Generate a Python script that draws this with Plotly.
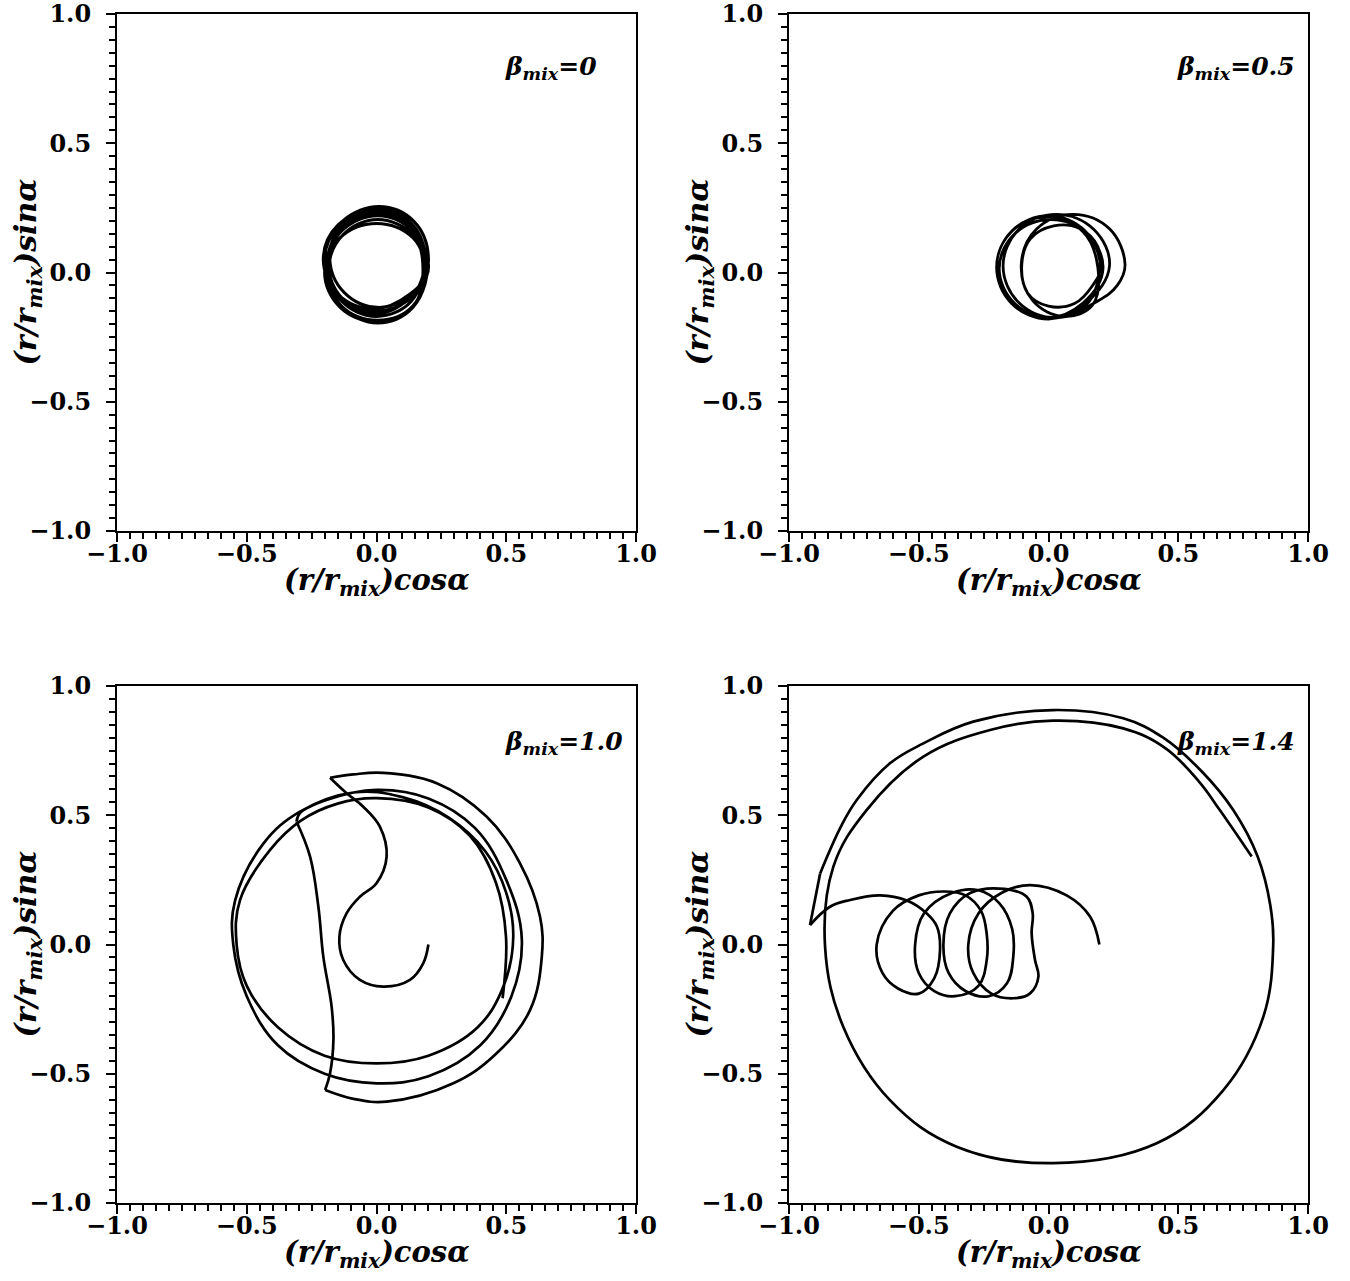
import plotly.graph_objects as go

# ---------------- data ----------------
# beta_mix = 0 : tightly wound loops around the origin
b0_x = [0.2, 0.141, 0.0, -0.141, -0.2, -0.141, 0.0, 0.141,
        0.2, 0.144, 0.01, -0.124, -0.18, -0.124, 0.01, 0.144,
        0.19, 0.134, 0.0, -0.134, -0.19, -0.134, 0.0, 0.134,
        0.185, 0.128, -0.01, -0.148, -0.205, -0.148, -0.01, 0.128,
        0.195, 0.139, 0.005, -0.129, -0.185, -0.129, 0.005, 0.139,
        0.178, 0.126, 0.0, -0.131, -0.185, -0.131, 0.0, 0.126,
        0.2, 0.14, 0.005, -0.135, -0.195, -0.135, 0.005, 0.14,
        0.19, 0.135, -0.005, -0.14, -0.2, -0.14, -0.005, 0.135,
        0.19]
b0_y = [0.0, 0.134, 0.19, 0.134, 0.0, -0.134, -0.19, -0.134,
        0.06, 0.198, 0.255, 0.198, 0.06, -0.078, -0.135, -0.078,
        0.03, 0.171, 0.23, 0.171, 0.03, -0.111, -0.17, -0.111,
        0.05, 0.184, 0.24, 0.184, 0.05, -0.084, -0.14, -0.084,
        0.005, 0.146, 0.205, 0.146, 0.005, -0.136, -0.195, -0.136,
        0.04, 0.181, 0.24, 0.181, 0.04, -0.101, -0.16, -0.101,
        0.015, 0.16, 0.22, 0.16, 0.015, -0.13, -0.185, -0.13,
        0.045, 0.19, 0.25, 0.19, 0.045, -0.095, -0.15, -0.095,
        0.03]

# beta_mix = 0.5
b05_x = [0.2, 0.19, 0.12, 0.02, -0.07, -0.103, -0.08, 0.0, 0.1, 0.17,
         0.2, 0.141, 0.0, -0.141, -0.2, -0.141, 0.0, 0.141,
         0.235, 0.175, 0.03, -0.115, -0.175, -0.115, 0.03, 0.19, 0.265,
         0.295, 0.236, 0.095, -0.046, -0.105, -0.06, 0.06, 0.17,
         0.19, 0.133, -0.005, -0.143, -0.2, -0.143, -0.005, 0.133,
         0.21, 0.151, 0.01, -0.131, -0.19, -0.131, 0.01, 0.151,
         0.2]
b05_y = [0.0, 0.1, 0.17, 0.18, 0.13, 0.03, -0.08, -0.13, -0.12, -0.05,
         0.02, 0.161, 0.22, 0.161, 0.02, -0.121, -0.18, -0.121,
         0.025, 0.166, 0.225, 0.166, 0.025, -0.116, -0.175, -0.11, -0.05,
         0.03, 0.168, 0.225, 0.168, 0.03, -0.11, -0.17, -0.125,
         0.02, 0.158, 0.215, 0.158, 0.02, -0.118, -0.175, -0.118,
         0.015, 0.149, 0.205, 0.149, 0.015, -0.119, -0.175, -0.119,
         0.02]

# beta_mix = 1.0 (four pieces, split at the cusps)
b10_s1_x = [0.2, 0.18, 0.129, 0.026, -0.064, -0.128, -0.143, -0.115, -0.064,
            0.0, 0.039, 0.013, -0.051, -0.115, -0.179]
b10_s1_y = [0.0, -0.073, -0.137, -0.163, -0.137, -0.06, 0.03, 0.121, 0.185,
            0.237, 0.34, 0.456, 0.533, 0.585, 0.645]
b10_s2_x = [-0.179, -0.089, 0.026, 0.232, 0.425, 0.553, 0.63, 0.637, 0.592,
            0.463, 0.296, 0.039, -0.089, -0.198]
b10_s2_y = [0.645, 0.658, 0.664, 0.624, 0.494, 0.314, 0.108, -0.047, -0.253,
            -0.421, -0.537, -0.608, -0.597, -0.563]
b10_s3_x = [-0.198, -0.179, -0.166, -0.173, -0.205, -0.224, -0.256, -0.308]
b10_s3_y = [-0.563, -0.498, -0.369, -0.24, -0.047, 0.146, 0.34, 0.475]
b10_s4_x = [-0.308, -0.295, -0.19, 0.0, 0.2, 0.38, 0.5, 0.56, 0.52, 0.40,
            0.2, 0.0, -0.2, -0.38, -0.5, -0.552, -0.545, -0.436, -0.295,
            -0.089, 0.1, 0.28, 0.42, 0.5, 0.527, 0.49, 0.39, 0.2, 0.0, -0.2,
            -0.38, -0.5, -0.539, -0.526, -0.41, -0.29, -0.15, 0.0, 0.2, 0.36,
            0.46, 0.499, 0.486]
b10_s4_y = [0.475, 0.508, 0.56, 0.598, 0.565, 0.45, 0.25, 0.02, -0.2, -0.39,
            -0.51, -0.537, -0.5, -0.39, -0.2, 0.0, 0.17, 0.39, 0.514,
            0.588, 0.57, 0.49, 0.36, 0.2, 0.03, -0.16, -0.32, -0.43, -0.46, -0.43,
            -0.32, -0.16, 0.0, 0.172, 0.366, 0.48, 0.545, 0.566, 0.53, 0.42,
            0.24, 0.03, -0.208]

# beta_mix = 1.4 (three pieces)
b14_s1_x = [0.196, 0.16, 0.07, -0.071, -0.18, -0.27, -0.309, -0.29, -0.22,
            -0.136, -0.071, -0.039, -0.052, -0.065, -0.061, -0.084, -0.17,
            -0.3, -0.38, -0.405, -0.385, -0.32, -0.23, -0.16, -0.136, -0.14,
            -0.19, -0.27, -0.37, -0.48, -0.514, -0.5, -0.44, -0.36, -0.27,
            -0.238, -0.238, -0.26, -0.32, -0.4, -0.5, -0.6, -0.662, -0.64,
            -0.58, -0.5, -0.44, -0.418, -0.43, -0.469, -0.546, -0.649,
            -0.765, -0.842, -0.919]
b14_s1_y = [0.0, 0.108, 0.19, 0.23, 0.2, 0.12, 0.0, -0.11, -0.19,
            -0.208, -0.189, -0.125, -0.06, 0.043, 0.121, 0.185, 0.215,
            0.2, 0.12, 0.0, -0.11, -0.18, -0.2, -0.15, -0.05, 0.06,
            0.16, 0.21, 0.2, 0.12, 0.0, -0.11, -0.18, -0.2, -0.16,
            -0.06, 0.04, 0.13, 0.19, 0.205, 0.19, 0.13, 0.0, -0.11,
            -0.17, -0.19, -0.13, -0.02, 0.07, 0.12, 0.17, 0.19,
            0.172, 0.146, 0.075]
b14_s2_x = [-0.919, -0.88]
b14_s2_y = [0.075, 0.275]
b14_s3_x = [-0.88, -0.80, -0.739, -0.611, -0.482, -0.29, 0.018, 0.288, 0.442,
            0.59, 0.712, 0.806, 0.855, 0.866, 0.828, 0.674, 0.417, 0.018,
            -0.354, -0.611, -0.791, -0.861, -0.829, -0.701, -0.482, -0.225,
            0.018, 0.288, 0.45, 0.58, 0.66, 0.783]
b14_s3_y = [0.275, 0.456, 0.559, 0.701, 0.778, 0.862, 0.907, 0.875, 0.80,
            0.67, 0.52, 0.34, 0.15, 0.0, -0.279, -0.563, -0.769, -0.846,
            -0.782, -0.602, -0.318, -0.008, 0.301, 0.52, 0.727, 0.83,
            0.866, 0.836, 0.76, 0.63, 0.52, 0.34]

labels = ["β<sub>mix</sub>=0", "β<sub>mix</sub>=0.5",
          "β<sub>mix</sub>=1.0", "β<sub>mix</sub>=1.4"]
label_pos = [(0.487, 0.79), (0.487, 0.79), (0.487, 0.78), (0.487, 0.78)]

tick_vals = [-1.0, -0.5, 0.0, 0.5, 1.0]
tick_text = ["−1.0", "−0.5", "0.0", "0.5", "1.0"]

# ---------------- figure ----------------
W, H = 1350, 1281
FONT = "DejaVu Serif"

panels = [
    [(b0_x, b0_y, "spline", 3.0)],
    [(b05_x, b05_y, "spline", 2.8)],
    [(b10_s1_x, b10_s1_y, "spline", 2.7), (b10_s2_x, b10_s2_y, "spline", 2.7),
     (b10_s3_x, b10_s3_y, "spline", 2.7), (b10_s4_x, b10_s4_y, "spline", 2.7)],
    [(b14_s1_x, b14_s1_y, "spline", 2.7), (b14_s2_x, b14_s2_y, "linear", 2.7),
     (b14_s3_x, b14_s3_y, "spline", 2.7)],
]

# pixel boxes of the four plot areas: (left, right, top, bottom)
boxes = [(117, 636, 14, 531), (789, 1308, 14, 531),
         (117, 636, 686, 1203), (789, 1308, 686, 1203)]

fig = go.Figure()
layout = dict(width=W, height=H, margin=dict(l=0, r=0, t=0, b=0, pad=0),
              paper_bgcolor="white", plot_bgcolor="white",
              showlegend=False, annotations=[])

for i, segs in enumerate(panels):
    n = "" if i == 0 else str(i + 1)
    for xs, ys, shape, lw in segs:
        fig.add_trace(go.Scatter(x=xs, y=ys, mode="lines",
                                 line=dict(color="black", width=lw, shape=shape,
                                           smoothing=1.1),
                                 xaxis="x" + n, yaxis="y" + n,
                                 hoverinfo="skip"))
    l, r, t, b = boxes[i]
    xd = [l / W, r / W]
    yd = [(H - b) / H, (H - t) / H]
    common = dict(range=[-1, 1], showgrid=False, zeroline=False,
                  automargin=False, ticklabeloverflow="allow",
                  showline=True, linecolor="black", linewidth=2, mirror=True,
                  ticks="outside", ticklen=9, tickwidth=2, tickcolor="black",
                  tickvals=tick_vals, ticktext=tick_text,
                  minor=dict(dtick=0.05, ticks="outside", ticklen=6,
                             tickwidth=1.5, tickcolor="black", showgrid=False),
                  tickfont=dict(family=FONT, size=24, color="black",
                                weight="bold"),
                  fixedrange=True)
    layout["xaxis" + n] = dict(domain=xd, anchor="y" + n,
                               ticklabelstandoff=-9, **common)
    layout["yaxis" + n] = dict(domain=yd, anchor="x" + n,
                               ticklabelstandoff=10, **common)

    cx = (l + r) / 2 / W
    layout["annotations"].append(dict(
        text="(r/r<sub>mix</sub>)cosα", xref="paper", yref="paper",
        x=cx, y=(H - (b + 51)) / H, showarrow=False,
        xanchor="center", yanchor="middle",
        font=dict(family=FONT, size=29, color="black", weight="bold",
                  style="italic")))
    layout["annotations"].append(dict(
        text="(r/r<sub>mix</sub>)sinα", xref="paper", yref="paper",
        x=(l - 90) / W, y=(H - (t + b) / 2) / H, showarrow=False,
        textangle=-90, xanchor="center", yanchor="middle",
        font=dict(family=FONT, size=30, color="black", weight="bold",
                  style="italic")))
    lx, ly = label_pos[i]
    layout["annotations"].append(dict(
        text=labels[i], xref="x" + n, yref="y" + n, x=lx, y=ly,
        showarrow=False, xanchor="left", yanchor="middle",
        font=dict(family=FONT, size=25, color="black", weight="bold",
                  style="italic")))

fig.update_layout(**layout)
fig.write_html("out.html", config={"displayModeBar": False},
               post_script="document.body.style.margin='0';")
